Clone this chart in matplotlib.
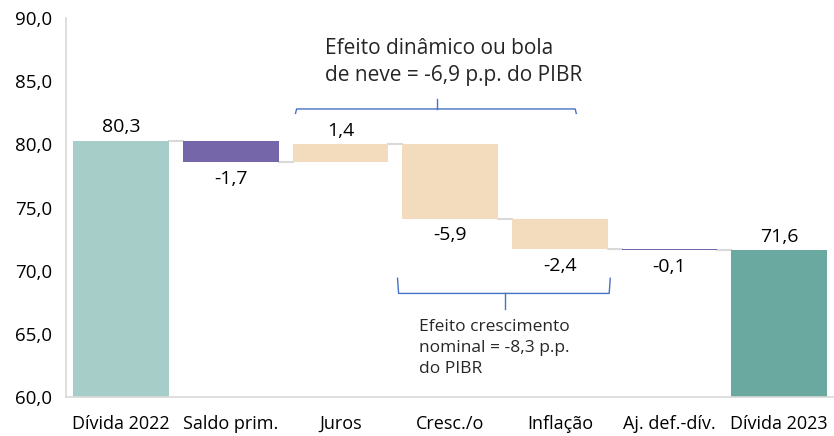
import numpy as np
import matplotlib.pyplot as plt

plt.rcParams['font.family'] = ['Open Sans', 'DejaVu Sans']

categories = ['Dívida 2022', 'Saldo prim.', 'Juros', 'Cresc./o', 'Inflação',
              'Aj. def.-dív.', 'Dívida 2023']
changes = [80.3, -1.7, 1.4, -5.9, -2.4, -0.1]
total_2023 = 71.6
labels = ['80,3', '-1,7', '1,4', '-5,9', '-2,4', '-0,1', '71,6']
label_above = [True, False, True, False, False, False, True]
colors = ['#a6cdc8', '#7566a9', '#f3dcbe', '#f3dcbe', '#f3dcbe', '#7566a9', '#6aa9a0']

yticks = [60, 65, 70, 75, 80, 85, 90]
ytick_labels = ['60,0', '65,0', '70,0', '75,0', '80,0', '85,0', '90,0']

# bottoms/tops of each floating bar
levels = np.cumsum(changes)
starts = np.concatenate([[60.0], levels[:-1]])
lows = np.append(np.minimum(starts, levels), 60.0)
highs = np.append(np.maximum(starts, levels), total_2023)

fig = plt.figure(figsize=(8.34, 4.36), dpi=100)
ax = fig.add_axes([0.0795, 0.0894, 0.9205, 0.8693])

x = np.arange(len(categories))
W = 0.87
ax.bar(x, highs - lows, bottom=lows, width=W, color=colors, zorder=2)

# connector lines
for i, lv in enumerate(levels):
    ax.plot([i + W / 2, i + 1 - W / 2], [lv, lv], color='#d9d9d9', lw=1.5, zorder=1)

# value labels
for i, lab in enumerate(labels):
    if label_above[i]:
        ax.text(i, highs[i] + 0.35, lab, ha='center', va='bottom', fontsize=14)
    else:
        ax.text(i, lows[i] - 0.6, lab, ha='center', va='top', fontsize=14)

# braces
bc = '#4472c4'
ax.plot([1.59, 1.60, 4.14, 4.15], [82.45, 82.8, 82.8, 82.45], color=bc, lw=1, zorder=3)
ax.plot([2.88, 2.88], [82.8, 83.6], color=bc, lw=1, zorder=3)
ax.plot([2.52, 2.53, 4.45, 4.46], [69.4, 68.2, 68.2, 69.4], color=bc, lw=1, zorder=3)
ax.plot([3.50, 3.50], [68.2, 67.0], color=bc, lw=1, zorder=3)

ax.text(1.86, 88.45, 'Efeito dinâmico ou bola\nde neve = -6,9 p.p. do PIBR',
        ha='left', va='top', fontsize=15, linespacing=1.4, color='#262626')
ax.text(2.72, 66.15, 'Efeito crescimento\nnominal = -8,3 p.p.\ndo PIBR',
        ha='left', va='top', fontsize=12.5, linespacing=1.4, color='#262626')

ax.set_xlim(-0.5, 6.5)
ax.set_ylim(60, 90)
ax.set_yticks(yticks)
ax.set_yticklabels(ytick_labels, fontsize=13.5)
ax.set_xticks(x)
ax.set_xticklabels(categories, fontsize=13, va='baseline')
ax.tick_params(axis='y', length=0, pad=10)
ax.tick_params(axis='x', length=0, pad=23)
for s in ['top', 'right']:
    ax.spines[s].set_visible(False)
for s in ['left', 'bottom']:
    ax.spines[s].set_color('#d9d9d9')
    ax.spines[s].set_linewidth(1.2)

fig.savefig('out.png', dpi=100)
